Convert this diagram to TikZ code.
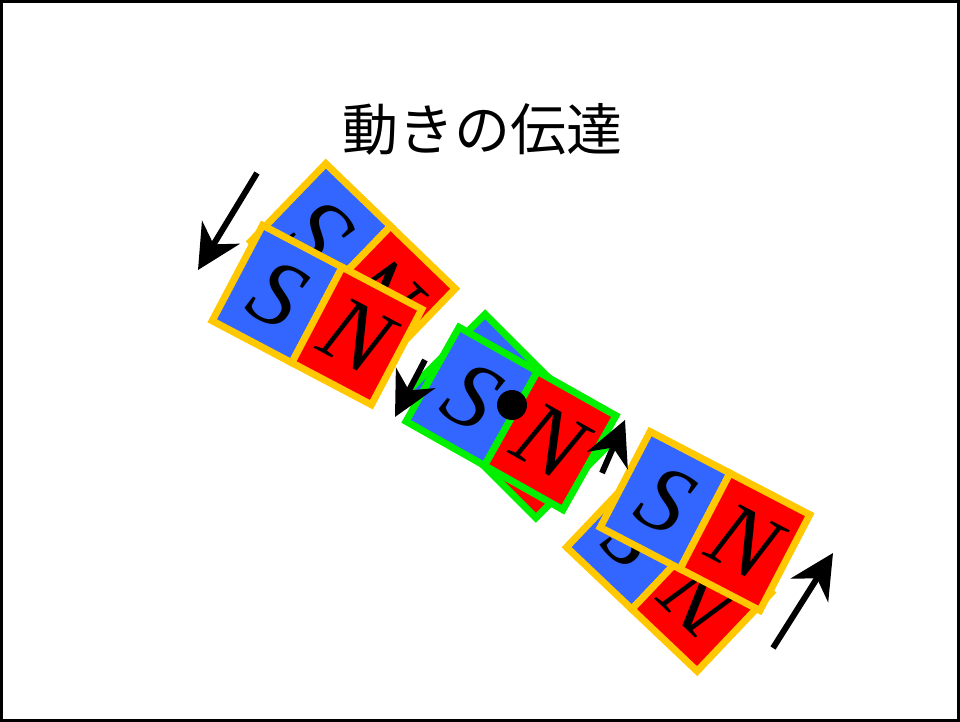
\documentclass[tikz,border=0pt]{standalone}
\usepackage{fontspec}
\setmainfont{Liberation Serif}
\newfontfamily\jpfont{Noto Sans CJK JP}
\usepackage{tikz}
\usetikzlibrary{arrows.meta}
\definecolor{poleS}{RGB}{51,102,255}
\definecolor{poleN}{RGB}{255,0,0}
\definecolor{rimOuter}{RGB}{255,200,0}
\definecolor{rimMid}{RGB}{0,240,0}
\tikzset{
    %Define standard arrow tip
    >={Stealth[length=44pt,width=44pt,inset=14pt]},
    %Define style for the magnet halves
    pole/.style={
           rectangle,
           line width=7pt,
           minimum width=90pt,
           minimum height=108pt,
           inner sep=0pt,
           font=\fontsize{94}{94}\selectfont\itshape,
           transform shape,
           },
    south/.style={pole, fill=poleS},
    north/.style={pole, fill=poleN},
    % Define arrow style
    mover/.style={
           ->,
           line width=6pt,
           },
    title/.style={
           font=\jpfont\fontsize{56}{60}\selectfont,
           },
}
\begin{document}
\begin{tikzpicture}[x=1pt,y=-1pt]
\useasboundingbox (0,0) rectangle (960,722);
\draw[line width=3pt] (1.5,1.5) rectangle (958.5,720.5);

\node[title] (head) at (482,129) {動きの伝達};

 %left magnet
\begin{scope}[shift={(353,265)}, rotate=-44]
\node[south, draw=rimOuter, rotate=180] (lbS) at (-45,0) {S};
\node[north, draw=rimOuter, rotate=180] (lbN) at (45,0) {N};
\end{scope}
\begin{scope}[shift={(317,315)}, rotate=-27.8]
\node[south, draw=rimOuter] (lfS) at (-45,0) {S};
\node[north, draw=rimOuter] (lfN) at (45,0) {N};
\end{scope}

 %middle magnet
\begin{scope}[shift={(510.5,416)}, rotate=-45]
\node[south, draw=rimMid, rotate=180] (cbS) at (-45,0) {S};
\node[north, draw=rimMid, rotate=180] (cbN) at (45,0) {N};
\end{scope}
\begin{scope}[shift={(511,418.5)}, rotate=-29.4]
\node[south, draw=rimMid] (cfS) at (-45,0) {S};
\node[north, draw=rimMid] (cfN) at (45,0) {N};
\end{scope}

 %right magnet
\begin{scope}[shift={(669,570)}, rotate=-43.5]
\node[south, draw=rimOuter, rotate=180] (rbS) at (-45,0) {S};
\node[north, draw=rimOuter, rotate=180] (rbN) at (45,0) {N};
\end{scope}
\begin{scope}[shift={(705,521)}, rotate=-27.5]
\node[south, draw=rimOuter] (rfS) at (-45,0) {S};
\node[north, draw=rimOuter] (rfN) at (45,0) {N};
\end{scope}

\node[circle, fill=black, minimum size=30pt, inner sep=0pt] (pivot) at (512,405) {};

 %arrows
\coordinate (a1) at (257,173);
\coordinate (b1) at (198,270);
\coordinate (a2) at (425,360);
\coordinate (b2) at (395,417);
\coordinate (a3) at (602,473);
\coordinate (b3) at (625,420);
\coordinate (a4) at (773,648);
\coordinate (b4) at (833,553);
\draw[mover] (a1) -- (b1);
\draw[mover] (a2) -- (b2);
\draw[mover] (a3) -- (b3);
\draw[mover] (a4) -- (b4);

\end{tikzpicture}
\end{document}
